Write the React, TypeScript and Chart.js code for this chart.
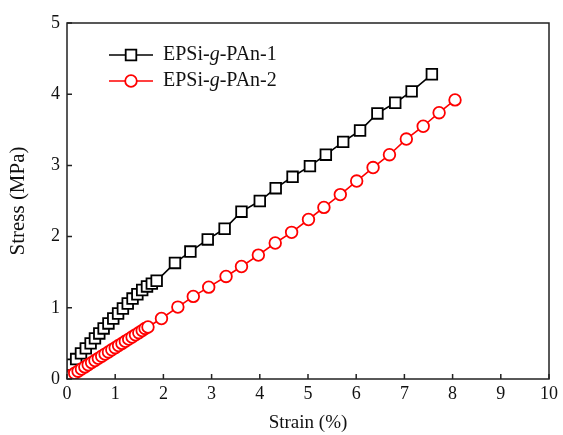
import React, { useEffect, useRef } from "react";
import { Chart, registerables } from "chart.js";

Chart.register(...registerables);

// EPSi-g-PAn-1 (black squares)
const strain1 = [
  0.02, 0.1, 0.19, 0.29, 0.39, 0.49, 0.58, 0.67, 0.76, 0.86, 0.96, 1.06, 1.16,
  1.26, 1.36, 1.46, 1.56, 1.66, 1.76, 1.86, 2.24, 2.56, 2.92, 3.27, 3.62, 4.0,
  4.33, 4.68, 5.04, 5.37, 5.73, 6.08, 6.44, 6.81, 7.15, 7.57,
];
const stress1 = [
  0.12, 0.2, 0.28, 0.36, 0.43, 0.5, 0.57, 0.64, 0.71, 0.78, 0.85, 0.92, 0.99,
  1.06, 1.13, 1.19, 1.25, 1.3, 1.34, 1.38, 1.63, 1.79, 1.96, 2.11, 2.35, 2.5,
  2.68, 2.84, 2.99, 3.15, 3.33, 3.49, 3.73, 3.88, 4.04, 4.28,
];

// EPSi-g-PAn-2 (red circles)
const strain2 = [
  0.03, 0.09, 0.16, 0.23, 0.3, 0.37, 0.44, 0.51, 0.58, 0.65, 0.72, 0.79, 0.86,
  0.93, 1.0, 1.07, 1.14, 1.21, 1.28, 1.35, 1.42, 1.49, 1.56, 1.62, 1.68, 1.96,
  2.3, 2.62, 2.94, 3.3, 3.62, 3.97, 4.32, 4.66, 5.01, 5.33, 5.67, 6.01, 6.35,
  6.69, 7.04, 7.39, 7.72, 8.05,
];
const stress2 = [
  0.02, 0.05, 0.08, 0.11, 0.14, 0.17, 0.2, 0.23, 0.26, 0.29, 0.32, 0.35, 0.38,
  0.41, 0.44, 0.47, 0.5, 0.53, 0.56, 0.59, 0.62, 0.65, 0.68, 0.71, 0.73, 0.85,
  1.01, 1.16, 1.29, 1.44, 1.58, 1.74, 1.91, 2.06, 2.24, 2.41, 2.59, 2.78, 2.97,
  3.15, 3.37, 3.55, 3.74, 3.92,
];

const xTicks = [0, 1, 2, 3, 4, 5, 6, 7, 8, 9, 10];
const yTicks = [0, 1, 2, 3, 4, 5];

// legend entries: plain prefix, italic middle, plain suffix
const legendNames = [
  ["EPSi-", "g", "-PAn-1"],
  ["EPSi-", "g", "-PAn-2"],
];

const FONT = "'Liberation Serif', 'Times New Roman', serif";
const AXIS_COLOR = "#222";

const framePlugin = {
  id: "frameAndLegend",
  afterDatasetsDraw(chart: any) {
    const { ctx, chartArea, scales } = chart;
    const { left, right, top, bottom } = chartArea;
    ctx.save();
    ctx.strokeStyle = AXIS_COLOR;
    ctx.lineWidth = 1.5;
    ctx.strokeRect(left, top, right - left, bottom - top);

    // inward tick marks on the bottom and left axes
    ctx.beginPath();
    xTicks.forEach((v) => {
      const px = scales.x.getPixelForValue(v);
      ctx.moveTo(px, bottom);
      ctx.lineTo(px, bottom - 5);
    });
    yTicks.forEach((v) => {
      const py = scales.y.getPixelForValue(v);
      ctx.moveTo(left, py);
      ctx.lineTo(left + 5, py);
    });
    ctx.stroke();

    // legend
    const rows = [
      { y: 55, color: "#000000", style: "rect", radius: 7.5 },
      { y: 81, color: "#ff0000", style: "circle", radius: 5.8 },
    ];
    rows.forEach((row, i) => {
      ctx.strokeStyle = row.color;
      ctx.lineWidth = 1.6;
      ctx.beginPath();
      ctx.moveTo(109, row.y);
      ctx.lineTo(153, row.y);
      ctx.stroke();
      ctx.fillStyle = "#fff";
      ctx.lineWidth = 1.8;
      ctx.beginPath();
      if (row.style === "rect") {
        const s = row.radius * Math.SQRT1_2;
        ctx.rect(131 - s, row.y - s, 2 * s, 2 * s);
      } else {
        ctx.arc(131, row.y, row.radius, 0, Math.PI * 2);
      }
      ctx.fill();
      ctx.stroke();

      const [a, b, c] = legendNames[i];
      ctx.fillStyle = "#111";
      ctx.textBaseline = "middle";
      ctx.textAlign = "left";
      let x = 163;
      ctx.font = `20px ${FONT}`;
      ctx.fillText(a, x, row.y);
      x += ctx.measureText(a).width;
      ctx.font = `italic 20px ${FONT}`;
      ctx.fillText(b, x, row.y);
      x += ctx.measureText(b).width;
      ctx.font = `20px ${FONT}`;
      ctx.fillText(c, x, row.y);
    });
    ctx.restore();
  },
};

export default function App() {
  const canvasRef = useRef<HTMLCanvasElement | null>(null);

  useEffect(() => {
    const canvas = canvasRef.current;
    if (!canvas) return;
    const tickFont = { family: FONT, size: 18 };

    const chart = new Chart(canvas, {
      type: "line",
      data: {
        datasets: [
          {
            label: "EPSi-g-PAn-2",
            data: strain2.map((x, i) => ({ x, y: stress2[i] })),
            borderColor: "#ff0000",
            backgroundColor: "#ffffff",
            borderWidth: 1.6,
            pointStyle: "circle",
            pointRadius: 5.8,
            pointBorderWidth: 1.8,
            pointBackgroundColor: "#ffffff",
            pointBorderColor: "#ff0000",
            order: 0,
          },
          {
            label: "EPSi-g-PAn-1",
            data: strain1.map((x, i) => ({ x, y: stress1[i] })),
            borderColor: "#000000",
            backgroundColor: "#ffffff",
            borderWidth: 1.6,
            pointStyle: "rect",
            pointRadius: 7.5,
            pointBorderWidth: 1.8,
            pointBackgroundColor: "#ffffff",
            pointBorderColor: "#000000",
            order: 1,
          },
        ],
      },
      options: {
        animation: false,
        responsive: false,
        maintainAspectRatio: false,
        layout: { padding: { left: 6, right: 14, top: 23, bottom: 0 } },
        plugins: {
          legend: { display: false },
          tooltip: { enabled: false },
        },
        scales: {
          x: {
            type: "linear",
            min: 0,
            max: 10,
            afterBuildTicks: (s: any) => {
              s.ticks = xTicks.map((v) => ({ value: v }));
            },
            afterFit: (s: any) => {
              s.height = 56;
            },
            grid: { display: false, drawTicks: false },
            border: { display: false },
            ticks: {
              font: tickFont,
              color: "#111",
              padding: 4,
              maxRotation: 0,
              autoSkip: false,
            },
            title: {
              display: true,
              text: "Strain (%)",
              font: { family: FONT, size: 19 },
              color: "#111",
              padding: 1,
            },
          },
          y: {
            type: "linear",
            min: 0,
            max: 5,
            afterBuildTicks: (s: any) => {
              s.ticks = yTicks.map((v) => ({ value: v }));
            },
            afterFit: (s: any) => {
              s.width = 61;
            },
            grid: { display: false, drawTicks: false },
            border: { display: false },
            ticks: {
              font: tickFont,
              color: "#111",
              padding: 7,
              autoSkip: false,
            },
            title: {
              display: true,
              text: "Stress (MPa)",
              font: { family: FONT, size: 21 },
              color: "#111",
              padding: 0,
            },
          },
        },
      },
      plugins: [framePlugin],
    });

    return () => chart.destroy();
  }, []);

  return (
    <div style={{ position: "fixed", left: 0, top: 0, width: 563, height: 435, background: "#fff" }}>
      <canvas ref={canvasRef} width={563} height={435} />
    </div>
  );
}
